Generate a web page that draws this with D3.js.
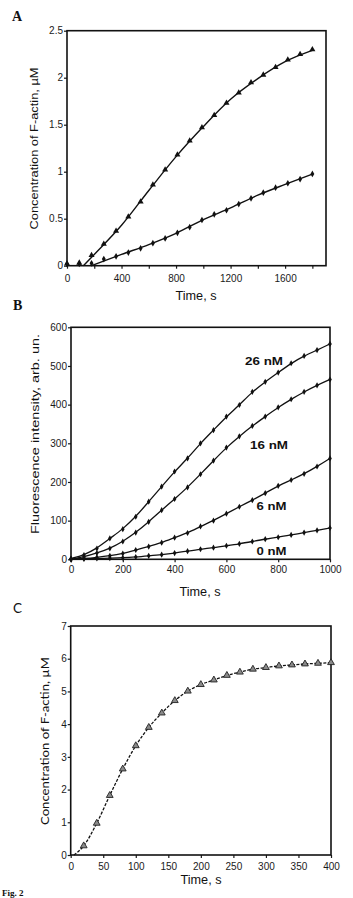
<!DOCTYPE html>
<html>
<head>
<meta charset="utf-8">
<script src="https://cdn.jsdelivr.net/npm/d3@7"></script>
<style>
  body { margin: 0; background: #fff; }
</style>
</head>
<body>
<div id="my_dataviz"></div>
<script>
// Panel A - F-actin concentration, two conditions (triangles / dots)
const timeA = [0, 90, 180, 270, 360, 450, 540, 630, 720, 810, 900, 990, 1080, 1170, 1260, 1350, 1440, 1530, 1620, 1710, 1800];
const concA1 = [0.02, 0.03, 0.11, 0.23, 0.37, 0.52, 0.68, 0.86, 1.02, 1.18, 1.33, 1.47, 1.60, 1.73, 1.84, 1.95, 2.03, 2.11, 2.19, 2.25, 2.30];
const concA2 = [0.02, 0.02, 0.025, 0.07, 0.10, 0.14, 0.185, 0.24, 0.29, 0.35, 0.41, 0.486, 0.547, 0.59, 0.656, 0.717, 0.777, 0.83, 0.877, 0.92, 0.976];
// fitted curves
const fitTimeA1 = [120, 200, 400, 600, 800, 1000, 1200, 1400, 1600, 1800];
const fitA1 = [0, 0.12, 0.43, 0.80, 1.16, 1.48, 1.77, 1.99, 2.17, 2.29];
const fitTimeA2 = [180, 400, 600, 800, 1000, 1200, 1400, 1600, 1800];
const fitA2 = [0, 0.12, 0.225, 0.345, 0.49, 0.615, 0.75, 0.865, 0.975];
const xTicksA = [0, 200, 400, 600, 800, 1000, 1200, 1400, 1600, 1800];
const yTicksA = [0, 0.5, 1, 1.5, 2, 2.5];

// Panel B - fluorescence for 4 concentrations
const timeB = [0, 50, 100, 150, 200, 250, 300, 350, 400, 450, 500, 550, 600, 650, 700, 750, 800, 850, 900, 950, 1000];
const seriesB = ["26 nM", "16 nM", "6 nM", "0 nM"];
const fluo26 = [2, 11, 28, 54, 78, 110, 149, 188, 227, 261, 300, 334, 369, 399, 433, 459, 483, 507, 526, 541, 557];
const fluo16 = [0, 6, 16, 28, 46, 69, 97, 127, 156, 186, 220, 255, 289, 318, 345, 369, 393, 414, 433, 450, 465];
const fluo6 = [0, 2, 5, 9, 15, 24, 33, 43, 56, 68, 85, 100, 118, 136, 153, 171, 190, 205, 221, 240, 261];
const fluo0 = [0, 1, 2, 3, 4, 6, 9, 12, 16, 21, 26, 30, 35, 40, 46, 52, 57, 63, 69, 75, 81];
const xTicksB = [0, 200, 400, 600, 800, 1000];
const yTicksB = [0, 100, 200, 300, 400, 500, 600];

// Panel C
const timeC = [5, 20, 40, 60, 80, 100, 120, 140, 160, 180, 200, 220, 240, 260, 280, 300, 320, 340, 360, 380, 400];
const concC = [0, 0.28, 0.97, 1.82, 2.63, 3.34, 3.90, 4.34, 4.72, 5.01, 5.21, 5.35, 5.49, 5.59, 5.68, 5.73, 5.78, 5.81, 5.84, 5.86, 5.88];
const xTicksC = [0, 50, 100, 150, 200, 250, 300, 350, 400];
const yTicksC = [0, 1, 2, 3, 4, 5, 6, 7];

const sans = "'Liberation Sans', Arial, sans-serif";
const serif = "'Liberation Serif', 'Times New Roman', serif";

const svg = d3.select("#my_dataviz")
  .append("svg")
    .attr("width", 353)
    .attr("height", 898);

// one framed plot area with ticks
function panel(o) {
  const x = d3.scaleLinear().domain(o.xDomain).range(o.xRange);
  const y = d3.scaleLinear().domain(o.yDomain).range(o.yRange);
  const g = svg.append("g");

  g.append("g")
    .attr("transform", `translate(0,${o.yRange[0]})`)
    .call(d3.axisBottom(x).tickValues(o.xTicks).tickFormat(o.xFormat || (d => d))
      .tickSize(o.tick).tickPadding(o.xPad))
    .call(a => a.select(".domain").remove());

  g.append("g")
    .attr("transform", `translate(${o.xRange[0]},0)`)
    .call(d3.axisLeft(y).tickValues(o.yTicks).tickFormat(d => d)
      .tickSize(o.tick).tickPadding(o.yPad))
    .call(a => a.select(".domain").remove());

  g.selectAll(".tick text")
    .attr("font-family", sans)
    .attr("font-size", 10)
    .attr("fill", "#1a1a1a");
  g.selectAll(".tick line").attr("stroke", "#1a1a1a").attr("stroke-width", 1.2);

  // frame
  g.append("rect")
    .attr("x", o.xRange[0])
    .attr("y", o.yRange[1])
    .attr("width", o.xRange[1] - o.xRange[0])
    .attr("height", o.yRange[0] - o.yRange[1])
    .attr("fill", "none")
    .attr("stroke", "#111")
    .attr("stroke-width", 1.6);

  return {g, x, y};
}

function label(txt, x, y, size, opts = {}) {
  const t = svg.append("text")
    .attr("x", x).attr("y", y)
    .attr("font-family", opts.family || sans)
    .attr("font-size", size)
    .attr("font-weight", opts.weight || "normal")
    .attr("text-anchor", opts.anchor || "start")
    .attr("fill", "#111")
    .text(txt);
  if (opts.rotate) t.attr("transform", `rotate(-90,${x},${y})`);
  if (opts.length) t.attr("textLength", opts.length).attr("lengthAdjust", "spacingAndGlyphs");
  return t;
}

// ---------- A ----------
const A = panel({
  xDomain: [0, 1900], xRange: [67, 326],
  yDomain: [0, 2.5], yRange: [265.7, 30.7],
  xTicks: xTicksA, xFormat: d => d % 400 === 0 ? d : "",
  yTicks: yTicksA, tick: 3, xPad: 6, yPad: 1
});

const lineA = d3.line()
  .x(d => A.x(d[0]))
  .y(d => A.y(d[1]))
  .curve(d3.curveMonotoneX);

[[fitTimeA1, fitA1], [fitTimeA2, fitA2]].forEach(([t, v]) => {
  A.g.append("path")
    .datum(d3.zip(t, v))
    .attr("d", lineA)
    .attr("fill", "none")
    .attr("stroke", "#111")
    .attr("stroke-width", 1.4);
});

A.g.selectAll(".triA")
  .data(d3.zip(timeA, concA1))
  .join("path")
    .attr("transform", d => `translate(${A.x(d[0])},${A.y(d[1])})`)
    .attr("d", d3.symbol(d3.symbolTriangle, 16))
    .attr("fill", "#111");

A.g.selectAll(".dotA")
  .data(d3.zip(timeA, concA2))
  .join("path")
    .attr("transform", d => `translate(${A.x(d[0])},${A.y(d[1])})`)
    .attr("d", d3.symbol(d3.symbolDiamond, 13))
    .attr("fill", "#111");

label("A", 12, 21, 14, {family: serif, weight: "bold"});
label("Time, s", 196, 300, 12, {anchor: "middle", length: 41});
label("Concentration of F-actin, \u00b5M", 38, 148.5, 11, {anchor: "middle", rotate: true, length: 162});

// ---------- B ----------
const B = panel({
  xDomain: [0, 1000], xRange: [71, 330],
  yDomain: [0, 600], yRange: [559.3, 327.3],
  xTicks: xTicksB, yTicks: yTicksB, tick: 3, xPad: 4, yPad: 1
});

const lineB = d3.line()
  .x(d => B.x(d[0]))
  .y(d => B.y(d[1]))
  .curve(d3.curveBasis);

const dataB = [fluo26, fluo16, fluo6, fluo0];
dataB.forEach(v => {
  const pts = d3.zip(timeB, v);
  B.g.append("path")
    .datum(pts)
    .attr("d", lineB)
    .attr("fill", "none")
    .attr("stroke", "#111")
    .attr("stroke-width", 1.3);
  B.g.append("g").selectAll("path")
    .data(pts)
    .join("path")
      .attr("transform", d => `translate(${B.x(d[0])},${B.y(d[1])})`)
      .attr("d", d3.symbol(d3.symbolDiamond, 11))
      .attr("fill", "#111");
});

// series labels next to the curves
const labelPosB = [[245, 365, 38], [250, 449, 38], [256.5, 510, 30], [256.5, 555, 30]];
seriesB.forEach((s, i) => {
  const [lx, ly, lw] = labelPosB[i];
  label(s, lx, ly, 11, {weight: "bold", length: lw});
});

label("B", 13, 310, 14, {family: serif, weight: "bold"});
label("Time, s", 200, 596, 12, {anchor: "middle", length: 41});
label("Fluorescence intensity, arb. un.", 39, 434, 11.5, {anchor: "middle", rotate: true, length: 200});

// ---------- C ----------
const C = panel({
  xDomain: [0, 400], xRange: [70.7, 331],
  yDomain: [0, 7], yRange: [855, 626],
  xTicks: xTicksC, yTicks: yTicksC, tick: 3, xPad: 5, yPad: 1
});

const lineC = d3.line()
  .x(d => C.x(d[0]))
  .y(d => C.y(d[1]))
  .curve(d3.curveMonotoneX);

const ptsC = d3.zip(timeC, concC);
C.g.append("path")
  .datum(ptsC)
  .attr("d", lineC)
  .attr("fill", "none")
  .attr("stroke", "#111")
  .attr("stroke-width", 1.3)
  .attr("stroke-dasharray", "3,1.5");

C.g.selectAll(".triC")
  .data(ptsC.slice(1))
  .join("path")
    .attr("transform", d => `translate(${C.x(d[0])},${C.y(d[1])})`)
    .attr("d", d3.symbol(d3.symbolTriangle, 20))
    .attr("fill", "#8a8a8a")
    .attr("stroke", "#222")
    .attr("stroke-width", 0.9);

label("C", 13, 612.5, 13.5, {family: "Lato, 'Open Sans', sans-serif"});
label("Time, s", 201, 884, 12, {anchor: "middle", length: 41});
label("Concentration of F-actin, \u00b5M", 49, 741, 12, {anchor: "middle", rotate: true, length: 168, family: "Lato, 'Open Sans', sans-serif"});

label("Fig. 2", 2, 896, 9, {family: serif, weight: "bold"});
</script>
</body>
</html>
